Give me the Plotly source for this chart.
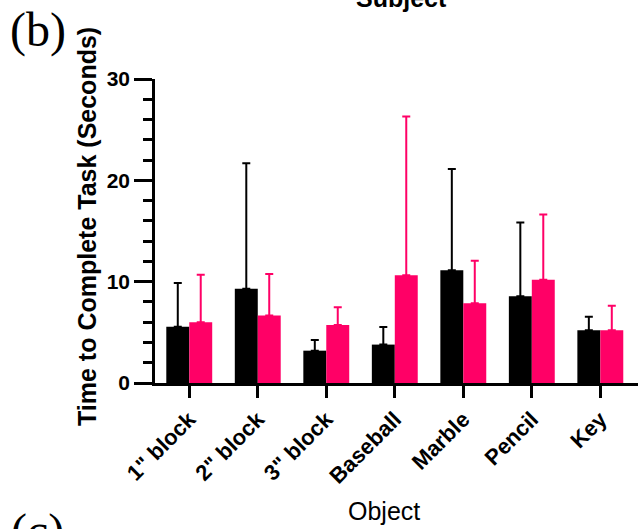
import plotly.graph_objects as go

objects = ['1" block', '2" block', '3" block', 'Baseball', 'Marble', 'Pencil', 'Key']
black_mean = [5.56, 9.31, 3.19, 3.79, 11.12, 8.55, 5.20]
black_top = [9.87, 21.69, 4.24, 5.53, 21.13, 15.83, 6.55]
pink_mean = [5.99, 6.65, 5.73, 10.63, 7.87, 10.20, 5.20]
pink_top = [10.69, 10.76, 7.47, 26.29, 12.07, 16.62, 7.63]
y_ticks = [0, 10, 20, 30]

black_err = [t - m for t, m in zip(black_top, black_mean)]
pink_err = [t - m for t, m in zip(pink_top, pink_mean)]

BLACK = "#000000"
PINK = "#FF0066"
FONT = "Liberation Sans"

fig = go.Figure()
fig.add_trace(go.Bar(
    x=objects, y=black_mean, marker=dict(color=BLACK, line=dict(width=0)),
    error_y=dict(type="data", array=black_err, arrayminus=[0]*7, symmetric=False,
                 color=BLACK, thickness=2, width=4),
    showlegend=False))
fig.add_trace(go.Bar(
    x=objects, y=pink_mean, marker=dict(color=PINK, line=dict(width=0)),
    error_y=dict(type="data", array=pink_err, arrayminus=[0]*7, symmetric=False,
                 color=PINK, thickness=2, width=4),
    showlegend=False))

W, H = 642, 529
L, R, T, B = 155, 4, 79, 146
pw = W - L - R
ph = H - T - B

def px_x(x):
    return (x - L) / pw

def px_y(y):
    return 1 - (y - T) / ph

fig.update_layout(
    width=W, height=H,
    margin=dict(l=L, r=R, t=T, b=B, pad=0),
    paper_bgcolor="white", plot_bgcolor="white",
    barmode="group", bargap=0.33, bargroupgap=0,
    font=dict(family=FONT, color="black"),
    xaxis=dict(
        range=[-0.5, 6.55], showgrid=False, zeroline=False,
        showline=True, linecolor="black", linewidth=2.5,
        ticks="outside", ticklen=12, tickwidth=2.5, tickcolor="black",
        tickangle=-45, tickfont=dict(family=FONT, size=22, color="black", weight="bold"),
    ),
    yaxis=dict(
        range=[0, 30], showgrid=False, zeroline=False,
        showline=True, linecolor="black", linewidth=2.5,
        tickvals=y_ticks, ticktext=[str(v) for v in y_ticks],
        ticks="outside", ticklen=18, tickwidth=2.5, tickcolor="black",
        tickfont=dict(family=FONT, size=21, color="black", weight="bold"),
        minor=dict(dtick=2, ticks="outside", ticklen=9, tickwidth=2.5, tickcolor="black"),
    ),
    annotations=[
        dict(text="Time to Complete Task (Seconds)", xref="paper", yref="paper",
             x=px_x(87), y=px_y(227), xanchor="center", yanchor="middle", textangle=-90,
             showarrow=False, font=dict(family=FONT, size=25, color="black", weight="bold")),
        dict(text="Object", xref="paper", yref="paper",
             x=px_x(384), y=px_y(511), xanchor="center", yanchor="middle",
             showarrow=False, font=dict(family=FONT, size=25, color="black")),
        dict(text="Subject", xref="paper", yref="paper",
             x=px_x(401), y=px_y(-2), xanchor="center", yanchor="middle",
             showarrow=False, font=dict(family=FONT, size=25, color="black", weight="bold")),
        dict(text="(b)", xref="paper", yref="paper",
             x=px_x(8), y=px_y(30), xanchor="left", yanchor="middle",
             showarrow=False, font=dict(family="Liberation Serif", size=48, color="black")),
        dict(text="(c)", xref="paper", yref="paper",
             x=px_x(9), y=px_y(531), xanchor="left", yanchor="middle",
             showarrow=False, font=dict(family="Liberation Serif", size=48, color="black")),
    ],
)

fig.write_html("out.html")
